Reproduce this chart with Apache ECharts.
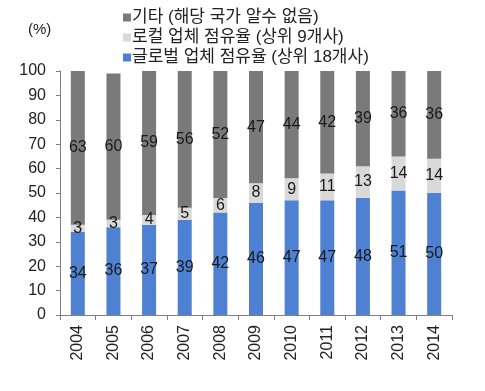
<!DOCTYPE html>
<html><head><meta charset="utf-8">
<script src="https://cdn.jsdelivr.net/npm/echarts@6/dist/echarts.min.js"></script>
<style>html,body{margin:0;padding:0;background:#fff}#c{width:485px;height:391px}</style>
</head><body><div id="c"></div>
<script>
var years = ['2004','2005','2006','2007','2008','2009','2010','2011','2012','2013','2014'];
var globalShare = [34,36,37,39,42,46,47,47,48,51,50];
var localShare = [3,3,4,5,6,8,9,11,13,14,14];
var otherShare = [63,60,59,56,52,47,44,42,39,36,36];
var yTicks = [0,10,20,30,40,50,60,70,80,90,100];
var names = ['글로벌 업체 점유율 (상위 18개사)','로컬 업체 점유율 (상위 9개사)','기타 (해당 국가 알수 없음)'];
var font = 'Arial, "Liberation Sans", "Noto Sans CJK KR", sans-serif';
var chart = echarts.init(document.getElementById('c'));
function mk(name, data, color){
  return {name:name,type:'bar',stack:'s',data:data,barWidth:14,
    itemStyle:{color:color},
    label:{show:true,position:'inside',color:'#1a1a1a',fontSize:16,fontFamily:font}};
}
chart.setOption({
  animation:false,
  textStyle:{fontFamily:font},
  grid:{left:60,right:33,top:71,bottom:76},
  graphic:[{type:'text',left:28,top:22,style:{text:'(%)',font:'15px '+font,fill:'#222'}}],
  legend:{orient:'vertical',left:118,top:4,itemWidth:8,itemHeight:8,itemGap:3,
    data:[names[2],names[1],names[0]],
    icon:'rect',
    textStyle:{fontSize:17,color:'#222',fontFamily:font,padding:[0,0,0,-4]}},
  xAxis:{type:'category',data:years,
    axisLine:{lineStyle:{color:'#808080'}},
    axisTick:{show:true,length:5,lineStyle:{color:'#808080'}},
    axisLabel:{rotate:90,fontSize:16,color:'#222',margin:10,fontFamily:font}},
  yAxis:{type:'value',min:0,max:100,interval:10,
    axisLine:{show:true,lineStyle:{color:'#808080'}},
    axisTick:{show:true,length:4,lineStyle:{color:'#808080'}},
    splitLine:{show:false},
    axisLabel:{fontSize:16,color:'#222',margin:14,fontFamily:font,
      formatter:function(v){return yTicks.indexOf(v)>=0?String(v):'';}}},
  series:[mk(names[0],globalShare,'#4f81d2'),mk(names[1],localShare,'#d9d9d9'),mk(names[2],otherShare,'#7a7a7a')]
});
</script></body></html>
